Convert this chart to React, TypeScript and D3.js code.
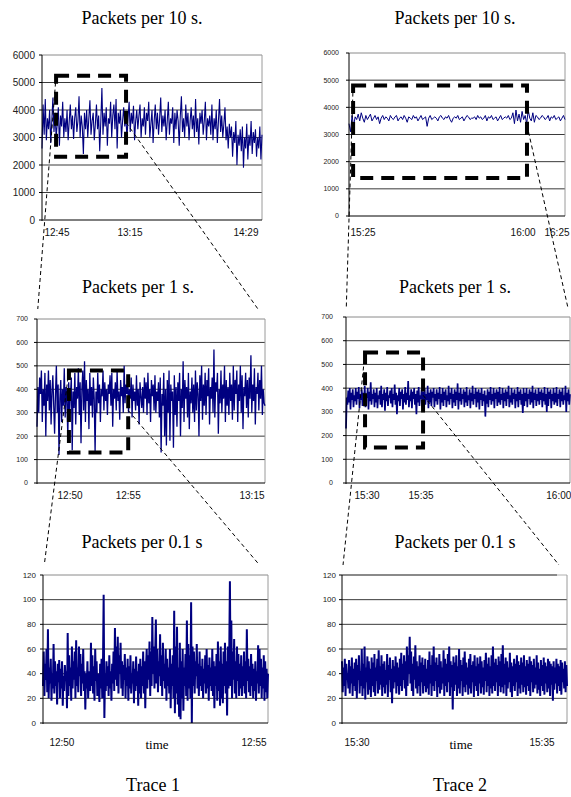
import React from "react";
import * as d3 from "d3";

// ---- values ----
// Trace 1, packets per 10 s
const trace1Per10s = [2600,4200,3100,4400,2900,3700,3300,4000,2800,3600,4450,3200,3900,3000,3500,4100,2700,3800,3400,4300,3000,3700,3200,4000,2900,3600,4200,3300,3800,2950,3700,4100,3200,3600,4500,3000,3800,3400,2400,3900,3300,4000,3000,3700,4350,3100,3600,3900,2900,3500,4200,3300,3800,2500,3600,4800,3100,3900,3400,4100,2700,3700,3500,4300,3000,3800,4200,3300,4400,2600,3900,3500,4000,3000,3600,4100,3400,3800,2950,3700,4300,3200,3900,3500,4150,2900,3600,4000,3300,3800,4200,3000,3700,3400,4100,3100,3900,3600,4300,3000,3500,4000,2800,3600,4200,3300,3900,3100,3700,4450,3200,3800,3400,4000,2900,3600,4300,3100,3700,3500,4100,2800,3900,3300,4000,3600,2700,3800,4500,3200,3700,3000,4200,3400,3900,2900,3600,4100,3300,3800,3000,4400,3200,3700,2750,3900,3500,4000,3100,3600,4300,2900,3700,3400,3800,3100,4200,2900,3700,3300,4000,2800,3600,4400,3200,3800,3000,3500,4100,2900,3400,2600,3500,3000,3400,2300,3200,2800,3600,2000,3100,2700,3300,2500,3400,1900,3000,2600,3500,2200,3100,2700,3600,2400,3200,2800,3300,2300,3000,2600,3400,2200,3100];
// Trace 2, packets per 10 s
const trace2Per10s = [3400,3100,3700,3300,3650,3550,3750,3500,3800,3600,3450,3700,3550,3650,3750,3500,3600,3700,3550,3650,3400,3600,3700,3550,3650,3600,3500,3700,3600,3550,3650,3700,3500,3600,3650,3550,3700,3600,3450,3650,3600,3550,3700,3600,3650,3500,3600,3700,3550,3600,3650,3300,3600,3700,3550,3600,3650,3600,3500,3650,3700,3600,3550,3650,3600,3700,3550,3450,3600,3650,3600,3700,3550,3600,3650,3500,3600,3700,3650,3550,3600,3600,3650,3550,3700,3600,3650,3550,3600,3700,3500,3650,3600,3700,3550,3600,3650,3500,3600,3700,3550,3600,3650,3600,3700,3550,3600,3800,3400,3900,3500,3750,3450,3850,3550,3700,3400,3900,3600,3500,3800,3450,3700,3650,3550,3600,3700,3650,3550,3600,3700,3500,3650,3600,3700,3550,3600,3650,3500,3600,3700,3550];
// Trace 1, packets per 1 s
const trace1Per1s = [240,410,300,450,380,480,260,400,330,470,200,420,350,480,310,440,250,390,460,330,210,380,500,300,420,120,360,440,260,400,330,490,280,410,350,200,430,300,380,450,140,390,320,470,250,410,360,490,290,430,170,400,480,310,520,260,440,350,400,230,470,330,410,280,450,360,130,390,300,470,340,420,260,400,370,480,310,430,350,400,290,420,380,460,330,470,240,400,360,430,310,480,350,390,270,440,370,410,300,500,340,420,380,460,300,400,360,450,280,420,350,390,310,460,330,400,250,430,370,320,410,300,450,360,430,290,470,340,400,260,440,370,420,310,460,300,390,350,430,280,450,130,380,330,470,200,400,160,440,300,480,180,420,350,390,150,460,290,410,240,430,350,470,200,400,320,520,260,440,360,410,280,470,230,390,340,450,300,420,260,480,310,430,380,200,460,350,500,270,420,330,470,290,440,370,490,250,410,360,450,300,570,280,430,390,470,210,400,340,480,300,420,360,500,260,440,330,410,290,470,350,420,270,500,310,440,380,480,260,420,350,500,300,460,230,410,370,470,320,440,280,450,360,545,300,420,350,490,250,410,380,470,310,440,360,500,290,400,340,330];
// Trace 2, packets per 1 s
const trace2Per1s = [230,360,330,390,340,400,310,380,350,395,320,370,345,400,330,385,355,405,315,375,350,395,325,380,340,410,320,370,360,400,310,385,345,425,330,375,355,395,320,380,340,400,315,370,355,390,330,410,320,375,350,395,305,380,345,405,325,370,360,390,335,400,320,375,350,415,330,380,290,370,345,400,325,385,355,395,310,375,340,405,330,380,350,430,320,370,345,395,315,385,355,400,330,375,290,390,340,405,325,370,355,395,320,385,345,400,330,375,350,410,315,380,340,395,325,385,360,400,320,375,345,395,330,380,355,405,310,375,340,400,325,385,350,395,320,370,345,410,330,380,355,400,315,375,340,395,325,385,350,420,310,380,345,400,330,375,355,395,320,385,340,405,325,370,350,395,315,380,345,410,330,375,355,400,320,385,340,395,310,380,350,400,325,375,345,390,280,370,335,395,320,385,350,405,330,375,345,400,315,380,355,395,325,385,340,405,330,375,350,400,315,380,345,395,325,385,355,410,320,370,340,400,330,380,355,395,315,375,345,405,320,385,350,395,330,375,295,400,325,380,345,400,320,375,355,395,330,385,340,410,315,380,350,395,325,375,345,400,330,385,350,395,320,380,345,405,330,375,300,400,325,385,355,395,315,375,345,400,330,380,340,405,325,375,355,395,320,385,345,400,330,370,350,410,300,380,345,395,330,375];
// Trace 1, packets per 0.1 s
const trace1Per100ms = [30,58,22,48,35,60,25,76,20,45,32,52,18,40,28,64,24,50,30,42,15,48,33,51,20,44,28,50,14,38,26,47,35,42,12,73,22,55,30,45,18,62,28,50,35,58,20,67,30,45,25,62,38,56,22,48,32,60,26,42,11,40,28,50,20,36,42,26,65,30,55,24,46,18,60,34,50,22,40,30,17,48,28,52,20,44,104,4,40,26,50,30,46,22,55,28,42,18,48,32,58,26,77,35,62,30,70,24,55,40,65,28,50,22,47,35,56,20,45,30,52,18,46,28,55,24,40,32,50,16,44,26,54,30,42,14,48,24,52,20,46,30,58,24,50,12,44,60,28,55,35,66,22,58,30,86,40,62,28,55,84,32,60,25,50,38,72,30,55,22,65,34,48,28,60,18,52,30,45,24,60,12,48,30,55,20,91,8,62,24,78,15,45,5,65,3,50,20,60,10,45,30,56,22,83,18,64,28,55,20,98,0,62,30,58,24,50,38,64,28,48,22,58,30,46,26,52,20,44,32,55,24,60,28,47,18,53,30,45,26,60,22,50,12,46,30,56,18,66,26,50,14,62,20,48,16,58,30,65,24,50,6,62,28,55,115,30,83,20,58,35,68,24,50,20,62,34,56,22,48,28,55,22,46,30,58,24,50,20,76,34,52,25,46,22,56,30,48,20,44,26,50,18,42,32,63,24,60,30,52,20,45,28,55,18,50,25,44,20,40];
// Trace 2, packets per 0.1 s
const trace2Per100ms = [50,25,45,30,52,22,48,35,40,28,51,24,46,32,53,22,44,30,49,26,52,20,47,35,55,24,42,30,60,22,48,28,62,19,45,33,54,23,50,27,44,21,53,30,49,25,56,22,45,34,52,24,59,27,46,31,55,22,48,29,50,24,43,31,56,21,47,35,53,25,44,16,51,28,46,33,54,24,49,30,45,23,52,30,57,26,48,35,55,28,50,22,62,30,55,40,70,32,58,26,48,22,54,35,63,28,50,24,46,30,55,22,49,33,53,24,47,30,52,25,44,28,51,23,58,32,47,22,55,30,62,26,49,34,53,21,47,29,56,24,50,27,45,32,59,22,52,30,48,25,56,33,62,22,50,29,47,11,54,26,49,31,55,22,46,28,60,24,51,34,47,22,53,29,58,25,49,31,45,23,52,28,56,24,47,33,50,21,55,30,46,26,53,22,48,32,54,24,50,29,45,23,51,34,57,25,48,30,53,22,46,28,55,24,62,30,49,26,52,33,47,22,54,30,50,25,56,29,63,24,48,31,53,22,50,28,45,33,57,25,49,21,46,30,52,26,48,33,55,22,50,28,47,24,53,31,49,25,55,29,46,23,51,30,48,26,54,22,50,33,47,25,52,28,45,31,55,24,49,27,44,22,51,30,47,26,53,23,49,32,46,25,52,28,50,22,48,31,46,18,50,27,45,32,52,24,48,30,46,26,51,23,49,33,44,28,50,25,47,30];

// time labels, placed at a fraction of each trace's span
const ticksT1_10s = [{ at: 0.068, label: "12:45" }, { at: 0.4, label: "13:15" }, { at: 0.927, label: "14:29" }];
const ticksT2_10s = [{ at: 0.065, label: "15:25" }, { at: 0.806, label: "16:00" }, { at: 0.963, label: "16:25" }];
const ticksT1_1s = [{ at: 0.145, label: "12:50" }, { at: 0.4, label: "12:55" }, { at: 0.943, label: "13:15" }];
const ticksT2_1s = [{ at: 0.094, label: "15:30" }, { at: 0.335, label: "15:35" }, { at: 0.95, label: "16:00" }];
const ticksT1_100ms = [{ at: 0.084, label: "12:50" }, { at: 0.938, label: "12:55" }];
const ticksT2_100ms = [{ at: 0.067, label: "15:30" }, { at: 0.889, label: "15:35" }];

// zoom windows: [start, end] as fraction of span, [low, high] in packets, plus where the right connector leaves
const zoomT1_10s = { x: [0.064, 0.382], y: [2300, 5250], exit: 3550 };
const zoomT2_10s = { x: [0.019, 0.824], y: [1400, 4800], exit: 3350 };
const zoomT1_1s = { x: [0.14, 0.4], y: [130, 480], exit: 310 };
const zoomT2_1s = { x: [0.085, 0.344], y: [150, 550], exit: 370 };

const NAVY = "#000080";
const SERIF = "'Liberation Serif', 'Times New Roman', serif";
const SANS = "'Liberation Sans', Arial, sans-serif";

const panels = [
  { key: "a", title: "Packets per 10 s.", data: trace1Per10s, yMax: 6000, step: 1000, ticks: ticksT1_10s, zoom: zoomT1_10s, lw: 1.1,
    left: 42, right: 262, top: 55, bottom: 220, yFont: 10, yLabelX: 35, xLabelY: 236, titleX: 142, titleY: 24 },
  { key: "b", title: "Packets per 10 s.", data: trace2Per10s, yMax: 6000, step: 1000, ticks: ticksT2_10s, zoom: zoomT2_10s, lw: 1,
    left: 349, right: 565, top: 53, bottom: 216, yFont: 7, yLabelX: 339, xLabelY: 236, titleX: 455, titleY: 24 },
  { key: "c", title: "Packets per 1 s.", data: trace1Per1s, yMax: 700, step: 100, ticks: ticksT1_1s, zoom: zoomT1_1s, lw: 1.3,
    left: 37, right: 265, top: 319, bottom: 483, yFont: 7, yLabelX: 28, xLabelY: 499, titleX: 138, titleY: 293 },
  { key: "d", title: "Packets per 1 s.", data: trace2Per1s, yMax: 700, step: 100, ticks: ticksT2_1s, zoom: zoomT2_1s, lw: 1.7,
    left: 346, right: 570, top: 317, bottom: 483, yFont: 7, yLabelX: 333, xLabelY: 499, titleX: 455, titleY: 293 },
  { key: "e", title: "Packets per 0.1 s", data: trace1Per100ms, yMax: 120, step: 20, ticks: ticksT1_100ms, zoom: null, lw: 2,
    left: 43, right: 268, top: 575, bottom: 723, yFont: 8, yLabelX: 36, xLabelY: 746, titleX: 142, titleY: 548, xTitle: 157 },
  { key: "f", title: "Packets per 0.1 s", data: trace2Per100ms, yMax: 120, step: 20, ticks: ticksT2_100ms, zoom: null, lw: 2,
    left: 342, right: 567, top: 575, bottom: 723, yFont: 8, yLabelX: 336, xLabelY: 746, titleX: 455, titleY: 548, xTitle: 461, greyTop: 557 },
];

function scalesFor(p) {
  const x = d3.scaleLinear().domain([0, 1]).range([p.left, p.right]);
  const y = d3.scaleLinear().domain([0, p.yMax]).range([p.bottom, p.top]);
  return { x, y };
}

function Panel({ p }) {
  const { x, y } = scalesFor(p);
  const idx = d3.scaleLinear().domain([0, p.data.length - 1]).range([0, 1]);
  const line = d3.line<number>().x((d, i) => x(idx(i))).y(d => y(d));
  const grid = d3.range(0, p.yMax + 1, p.step);

  return (
    <g>
      <text x={p.titleX} y={p.titleY} textAnchor="middle" fontFamily={SERIF} fontSize={18}>{p.title}</text>
      {grid.map(v => (
        <g key={v}>
          {v > 0 && (
            <line x1={p.left} x2={v === p.yMax && p.greyTop ? p.greyTop : p.right} y1={y(v)} y2={y(v)}
              stroke={v === p.yMax ? "#8a8a8a" : "#3a3a3a"} strokeWidth={v === p.yMax && p.greyTop ? 2.2 : 1} />
          )}
          <line x1={p.left - 3} x2={p.left} y1={y(v)} y2={y(v)} stroke="#000" />
          <text x={p.yLabelX} y={y(v)} dy="0.35em" textAnchor="end" fontFamily={SANS} fontSize={p.yFont} fill="#222">{v}</text>
        </g>
      ))}
      {p.greyTop && <line x1={p.greyTop} x2={p.right} y1={p.top} y2={p.top} stroke="#b0b0b0" />}
      <line x1={p.right} x2={p.right} y1={p.top} y2={p.bottom} stroke="#9a9a9a" />
      <path d={line(p.data)} fill="none" stroke={NAVY} strokeWidth={p.lw} strokeLinejoin="bevel" />
      <line x1={p.left} x2={p.left} y1={p.top} y2={p.bottom + 1} stroke="#000" />
      <line x1={p.left} x2={p.right} y1={p.bottom} y2={p.bottom} stroke="#000" />
      {p.ticks.map(t => (
        <text key={t.label} x={x(t.at)} y={p.xLabelY} textAnchor="middle" fontFamily={SANS} fontSize={10} fill="#111">{t.label}</text>
      ))}
      {p.zoom && (
        <rect x={x(p.zoom.x[0])} y={y(p.zoom.y[1])} width={x(p.zoom.x[1]) - x(p.zoom.x[0])}
          height={y(p.zoom.y[0]) - y(p.zoom.y[1])} fill="none" stroke="#000" strokeWidth={4} strokeDasharray="13,8" />
      )}
      {p.xTitle && (
        <text x={p.xTitle} y={749} textAnchor="middle" fontFamily={SERIF} fontSize={13}>time</text>
      )}
    </g>
  );
}

// dashed lines from a zoom window down to the panel that enlarges it
function Connector({ from, to }) {
  const a = scalesFor(from);
  const b = scalesFor(to);
  const z = from.zoom;
  const gap = 10;
  const x0 = a.x(z.x[0]), y0 = a.y(z.y[1]);
  const x1 = a.x(z.x[1]), y1 = a.y(z.exit);
  const endY = b.y(to.yMax) - gap;
  const shorten = (sx, sy, ex, ey) => {
    const t = (endY - sy) / (ey - sy);
    return [sx + (ex - sx) * t, endY];
  };
  const [lx, ly] = shorten(x0, y0, b.x(0), b.y(to.yMax));
  const [rx, ry] = shorten(x1, y1, b.x(1), b.y(to.yMax));
  return (
    <g stroke="#000" strokeWidth={1} strokeDasharray="4,3" fill="none">
      <line x1={x0} y1={y0} x2={lx} y2={ly} />
      <line x1={x1} y1={y1} x2={rx} y2={ry} />
    </g>
  );
}

export default function App() {
  return (
    <svg width={571} height={797} style={{ position: "absolute", left: 0, top: 0, background: "#fff" }}>
      {panels.map(p => <Panel key={p.key} p={p} />)}
      <Connector from={panels[0]} to={panels[2]} />
      <Connector from={panels[1]} to={panels[3]} />
      <Connector from={panels[2]} to={panels[4]} />
      <Connector from={panels[3]} to={panels[5]} />
      <text x={153} y={791} textAnchor="middle" fontFamily={SERIF} fontSize={18}>Trace 1</text>
      <text x={460} y={791} textAnchor="middle" fontFamily={SERIF} fontSize={18}>Trace 2</text>
    </svg>
  );
}
